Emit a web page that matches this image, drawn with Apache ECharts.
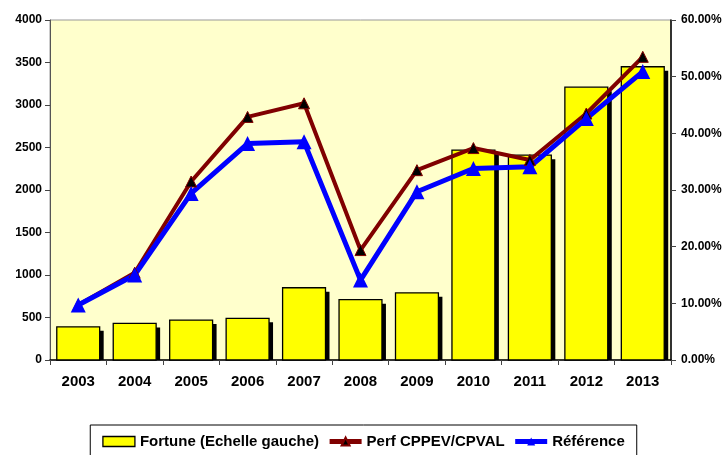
<!DOCTYPE html>
<html><head><meta charset="utf-8">
<script src="https://cdn.jsdelivr.net/npm/echarts@6/dist/echarts.min.js"></script>
<style>html,body{margin:0;padding:0;background:#fff}#c{width:727px;height:455px}</style>
</head><body><div id="c"></div>
<script>
const years = ['2003','2004','2005','2006','2007','2008','2009','2010','2011','2012','2013'];
const fortune = [390, 430, 470, 490, 850, 710, 790, 2470, 2410, 3210, 3450];
const perfCPPEV = [9.7, 15.4, 31.5, 42.9, 45.3, 19.4, 33.5, 37.4, 35.3, 43.5, 53.5];
const reference = [9.7, 15.0, 29.4, 38.2, 38.5, 14.1, 29.7, 33.8, 34.1, 42.6, 50.9];
const seriesNames = ['Fortune (Echelle gauche)', 'Perf CPPEV/CPVAL', 'Référence'];

const font = 'Liberation Sans, Arial, sans-serif';
const chart = echarts.init(document.getElementById('c'), null, {renderer: 'canvas'});

function renderBar(params, api) {
  const top = api.coord([api.value(0), api.value(1)]);
  const base = api.coord([api.value(0), 0]);
  const w = api.size([1, 0])[0] * 0.76;
  const h = base[1] - top[1];
  return {
    type: 'group',
    children: [
      {type: 'rect', shape: {x: top[0] - w / 2 + 4, y: top[1] + 4, width: w, height: h - 4}, style: {fill: '#000'}},
      {type: 'rect', shape: {x: top[0] - w / 2, y: top[1], width: w, height: h}, style: {fill: '#FFFF00', stroke: '#000', lineWidth: 1.3}}
    ]
  };
}

chart.setOption({
  backgroundColor: '#fff',
  animation: false,
  grid: {left: 50, right: 56, top: 20, bottom: 95, show: true, backgroundColor: '#FFFFCC', borderColor: '#999', borderWidth: 1},
  legend: {
    top: 425, left: 'center',
    padding: [9, 12, 12, 12],
    borderColor: '#000', borderWidth: 1,
    itemGap: 8, itemWidth: 32, itemHeight: 10,
    textStyle: {fontFamily: font, fontWeight: 'bold', fontSize: 15, color: '#000'},
    data: [
      {name: seriesNames[0], icon: 'rect', itemStyle: {color: '#FFFF00', borderColor: '#000', borderWidth: 1.3}},
      {name: seriesNames[1], lineStyle: {width: 5}},
      {name: seriesNames[2], lineStyle: {width: 5}}
    ]
  },
  xAxis: {
    type: 'category', data: years,
    axisLine: {lineStyle: {color: '#000', width: 1.5}},
    axisTick: {show: true, alignWithLabel: false, length: 5, lineStyle: {color: '#444'}},
    axisLabel: {fontFamily: font, fontWeight: 'bold', fontSize: 15, color: '#000', margin: 14}
  },
  yAxis: [
    {type: 'value', min: 0, max: 4000, interval: 500,
     splitLine: {show: false},
     axisLine: {show: true, lineStyle: {color: '#555'}},
     axisTick: {show: true, length: 5, lineStyle: {color: '#444'}},
     axisLabel: {fontFamily: font, fontWeight: 'bold', fontSize: 12, color: '#000', margin: 8,
       formatter: v => String(v)}},
    {type: 'value', min: 0, max: 60, interval: 10,
     splitLine: {show: false},
     axisLine: {show: true, lineStyle: {color: '#000', width: 1.5}},
     axisTick: {show: true, length: 5, lineStyle: {color: '#444'}},
     axisLabel: {fontFamily: font, fontWeight: 'bold', fontSize: 12, color: '#000', margin: 10,
       formatter: v => v.toFixed(2) + '%'}}
  ],
  series: [
    {name: seriesNames[0], type: 'custom', yAxisIndex: 0,
     data: fortune.map((v, i) => [i, v]),
     encode: {x: 0, y: 1},
     itemStyle: {color: '#FFFF00'},
     renderItem: renderBar},
    {name: seriesNames[1], type: 'line', data: perfCPPEV, yAxisIndex: 1,
     symbol: 'triangle', symbolSize: 11,
     lineStyle: {color: '#800000', width: 4},
     itemStyle: {color: '#000', borderColor: '#800000', borderWidth: 1}},
    {name: seriesNames[2], type: 'line', data: reference, yAxisIndex: 1,
     symbol: 'triangle', symbolSize: 15,
     lineStyle: {color: '#0000FF', width: 5},
     itemStyle: {color: '#0000FF'}}
  ]
});
</script></body></html>
